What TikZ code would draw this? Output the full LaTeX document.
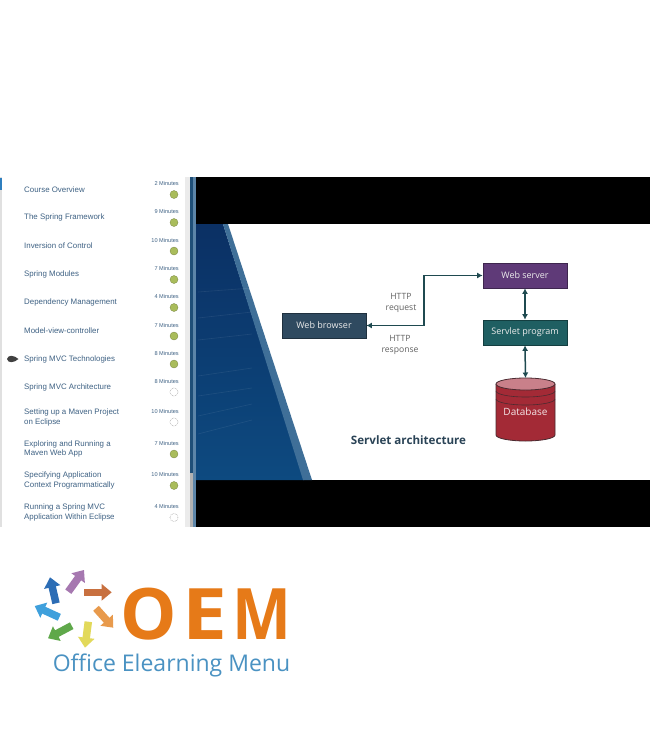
\documentclass[tikz,border=0pt]{standalone}
\usepackage{fontspec}
\setmainfont{Open Sans}
\newfontfamily\listfont{Liberation Sans}
\usetikzlibrary{arrows.meta,shadows}
\definecolor{listblue}{HTML}{3F6284}
\definecolor{donegreen}{HTML}{A9BC5B}
\definecolor{slidenavy}{HTML}{0B3064}
\definecolor{slidelow}{HTML}{0D4A80}
\definecolor{slideband}{HTML}{3F6F98}
\definecolor{stripdark}{HTML}{1F4F78}
\definecolor{stripblue}{HTML}{2F7FBF}
\definecolor{boxnavy}{HTML}{2F4A60}
\definecolor{boxpurple}{HTML}{5F3A78}
\definecolor{boxteal}{HTML}{1F5F62}
\definecolor{dbred}{HTML}{A32A36}
\definecolor{dbtop}{HTML}{C9808A}
\definecolor{dbedge}{HTML}{4A2A30}
\definecolor{linkdark}{HTML}{1F4A50}
\definecolor{oemorange}{HTML}{E67A18}
\definecolor{oemblue}{HTML}{4A92C2}
\definecolor{logobrown}{HTML}{C8703F}
\definecolor{logopeach}{HTML}{E89A4C}
\definecolor{logoyellow}{HTML}{E2D95A}
\definecolor{logogreen}{HTML}{5FA84A}
\definecolor{logosky}{HTML}{3FA0DC}
\definecolor{logoblue}{HTML}{2C6DB5}
\definecolor{logopurple}{HTML}{A678B0}
\begin{document}
\begin{tikzpicture}[
    x=1pt, y=-1pt,
    item/.style={anchor=west, align=left, text=listblue, font=\listfont\fontsize{7.9}{9.8}\selectfont, inner sep=0pt},
    mins/.style={anchor=east, text=listblue, font=\listfont\fontsize{5.6}{6.5}\selectfont, inner sep=0pt},
    donemark/.style={circle, fill=donegreen, draw=donegreen!70!black, line width=0.3pt, minimum size=8pt, inner sep=0pt},
    openmark/.style={circle, draw=black!45, densely dotted, line width=0.5pt, minimum size=8pt, inner sep=0pt},
    box/.style={draw=black!35!#1, fill=#1, line width=0.7pt, minimum width=84pt, minimum height=25pt,
      drop shadow={opacity=0.3, shadow xshift=0.6pt, shadow yshift=-0.8pt},
      inner sep=0pt, text=white!92!black, font=\fontsize{9}{11}\selectfont},
    caption/.style={text=black!62, font=\fontsize{8.6}{11}\selectfont, align=center, inner sep=0pt},
    link/.style={draw=linkdark, line width=1.5pt, {Latex[length=5.5pt,width=6pt]}-{Latex[length=5.5pt,width=6pt]}},
    letter/.style={text=oemorange, font=\fontsize{71}{60}\selectfont\bfseries, inner sep=0pt, text height=50pt, text depth=0pt}
  ]
    \useasboundingbox (0,0) rectangle (650,750);
    \fill[white] (0,0) rectangle (650,750);

    % course list
    \fill[black!12] (0,177) rectangle (2,527);
    \fill[stripblue] (0,178) rectangle (1.5,190);
    \fill[black!8] (185,177) rectangle (190,527);
    \fill[stripdark] (190,177) rectangle (193,527);
    \fill[slideband!85!white] (193,177) rectangle (196,527);
    \fill[black!30] (190,473) rectangle (193,527);
    \foreach \ttl/\ty/\mn/\my/\mk [count=\i] in {
        {Course Overview}/189.5/2/183.5/donemark,
        {The Spring Framework}/217.5/9/211.5/donemark,
        {Inversion of Control}/246/10/240/donemark,
        {Spring Modules}/274.5/7/268.5/donemark,
        {Dependency Management}/302.5/4/296.5/donemark,
        {Model-view-controller}/330.5/7/325/donemark,
        {Spring MVC Technologies}/359.5/8/353/donemark,
        {Spring MVC Architecture}/387.5/8/381/openmark,
        {Setting up a Maven Project\\on Eclipse}/417.5/10/411/openmark,
        {Exploring and Running a\\Maven Web App}/449/7/443/donemark,
        {Specifying Application\\Context Programmatically}/480.5/10/474.5/donemark,
        {Running a Spring MVC\\Application Within Eclipse}/512.5/4/506.5/openmark} {
      \node[item] (item\i) at (24,\ty) {\ttl};
      \node[mins] (time\i) at (179,\my) {\mn\ Minutes};
      \node[\mk] (mark\i) at (174,\my+11) {};
    }
    \fill[black!75] (7,359) .. controls (8,354.5) and (14,355) .. (18.5,359)
      .. controls (14,363) and (8,363.5) .. (7,359);

    % video frame
    \fill[black] (196,177) rectangle (650,527);
    \fill[white] (196,224) rectangle (650,480);
    \shade[top color=slidenavy, bottom color=slidelow]
      (196,224) -- (223,224) -- (304,480) -- (196,480) -- cycle;
    \fill[slideband] (223,224) -- (228,224) -- (312,480) -- (303,480) -- cycle;
    \foreach \ya/\yb in {292/288, 318/312, 340/334, 376/368, 396/388, 416/404, 434/420} {
      \draw[white, opacity=0.08, line width=0.6pt] (198,\ya) -- (252,\yb);
    }

    % servlet diagram
    \node[box=boxnavy] (browser) at (324,325.5) {Web browser};
    \node[box=boxpurple] (server) at (525,275.5) {Web server};
    \node[box=boxteal] (servlet) at (525,332.5) {Servlet program};
    % database drum
    \fill[dbred] (496,384) -- (496,435) arc[start angle=180, end angle=360, x radius=29.5, y radius=-6]
      -- (555,384) -- cycle;
    \draw[dbedge, line width=0.8pt] (496,384) -- (496,435) arc[start angle=180, end angle=360, x radius=29.5, y radius=-6]
      -- (555,384);
    \foreach \yy in {391,399} {
      \draw[dbedge, line width=0.6pt] (496,\yy) arc[start angle=180, end angle=360, x radius=29.5, y radius=-6];
    }
    \fill[dbtop] (525.5,384) ellipse[x radius=29.5, y radius=6];
    \draw[dbedge, line width=0.8pt] (525.5,384) ellipse[x radius=29.5, y radius=6];
    \node[text=white!88!dbred, font=\fontsize{10}{12}\selectfont, inner sep=0pt] (db) at (525.5,412) {Database};
    \coordinate (dbcap) at (525.5,378);
    \coordinate (bend) at (424,275.5);
    \draw[link] (browser.east) -| (bend) -- (server.west);
    \draw[link] (server.south) -- (servlet.north);
    \draw[link] (servlet.south) -- (dbcap);
    \node[caption] (request) at (401,303) {HTTP\\request};
    \node[caption] (response) at (400,345) {HTTP\\response};
    \node[text=boxnavy!90!black, font=\fontsize{11.6}{13}\selectfont\bfseries, inner sep=0pt] (title) at (408.5,440.5) {Servlet architecture};

    % logo
    \foreach \ax/\ay/\bx/\by/\col in {
        84/592.3/111.7/592.3/logobrown,
        96/608.3/113.3/627.7/logopeach,
        88.3/621.7/85/647.7/logoyellow,
        71.7/625.7/48/638.3/logogreen,
        59.3/617.3/34.7/606/logosky,
        56/603.3/50/577.3/logoblue,
        68.3/591.7/84/570/logopurple} {
      \draw[\col, line width=7.5pt, -{Triangle[length=10pt,width=16pt]}] (\ax,\ay) -- (\bx,\by);
    }
    \node[letter] (oemo) at (148.5,614) {O};
    \node[letter, xscale=1.13] (oeme) at (205,614) {E};
    \node[letter, xscale=0.88] (oemm) at (262,614) {M};
    \node[text=oemblue, font=\fontsize{23}{25}\selectfont, inner sep=0pt] (slogan) at (171.5,665.5) {Office Elearning Menu};
  \end{tikzpicture}
\end{document}
